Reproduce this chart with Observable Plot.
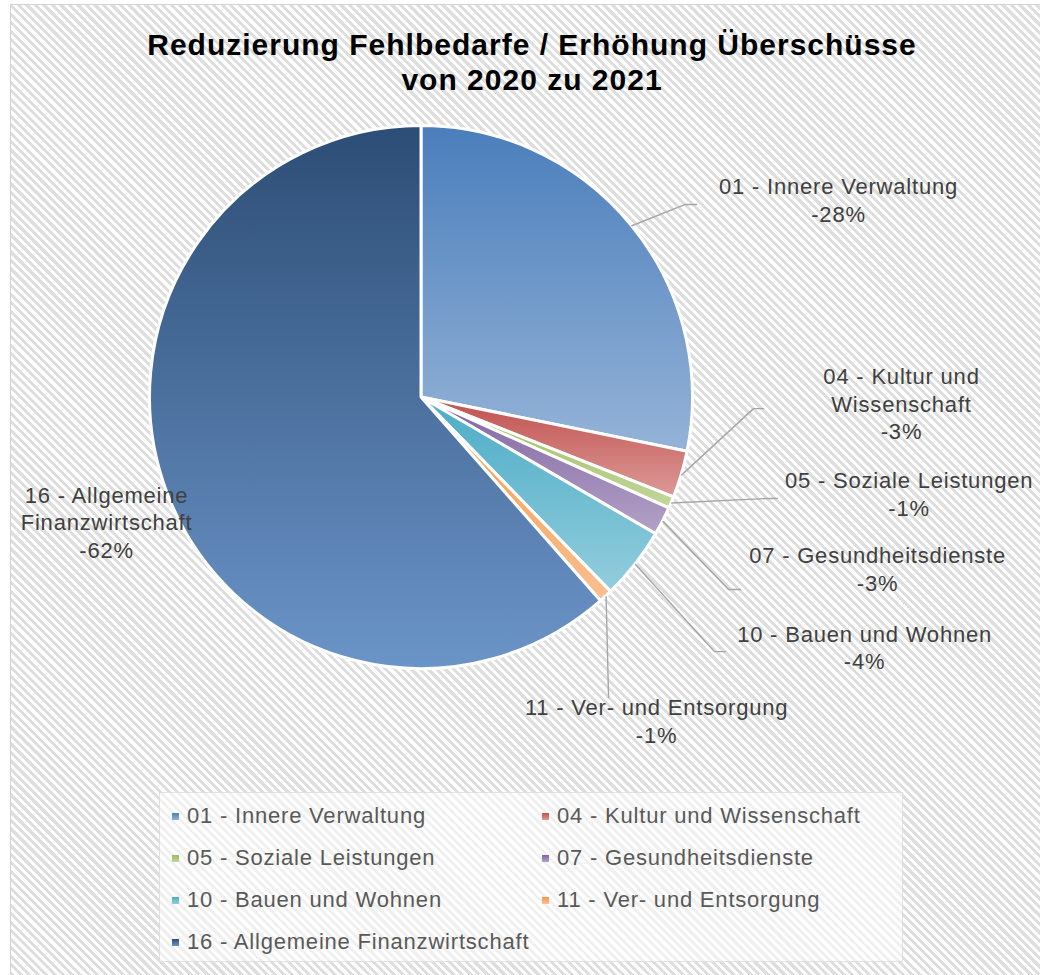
<!DOCTYPE html>
<html>
<head>
<meta charset="utf-8">
<script src="https://cdn.jsdelivr.net/npm/d3@7"></script>
<script src="https://cdn.jsdelivr.net/npm/@observablehq/plot@0.6"></script>
<style>
  html, body { margin: 0; padding: 0; background: #ffffff; }
  #wrap { position: relative; width: 1040px; height: 975px; overflow: hidden; font-family: "Liberation Sans", Arial, sans-serif; }
  #bg { position: absolute; left: 10px; top: 4px; width: 1060px; height: 1000px; border: 1px solid #d4d4d4;
        background: repeating-linear-gradient(45deg, #ffffff 0px, #ffffff 3px, #dedede 3px, #dedede 6px); }
  #content { position: absolute; left: 0; top: 0; width: 1040px; }
  #title { box-sizing: border-box; height: 112px; padding-top: 27px; padding-left: 24px; text-align: center;
           font-weight: bold; font-size: 30px; letter-spacing: 1px; line-height: 35px; color: #000; }
  #chart svg { display: block; background: transparent; }
  #legend { box-sizing: border-box; margin: 12px 0 0 159px; width: 744px; height: 170px; padding: 2px 0 0 12px;
            background: rgba(255,255,255,0.55); border: 1px solid rgba(215,215,215,0.7);
            display: grid; grid-template-columns: 370px 360px; grid-auto-rows: 42px;
            font-size: 22px; letter-spacing: 0.8px; line-height: 42px; color: #595959; }
  .item { white-space: nowrap; }
  .sw { display: inline-block; width: 7px; height: 7px; margin-right: 8px; vertical-align: 3px; }
</style>
</head>
<body>
<div id="wrap">
  <div id="bg"></div>
  <div id="content">
    <div id="title">Reduzierung Fehlbedarfe / Erhöhung Überschüsse<br>von 2020 zu 2021</div>
    <div id="chart"></div>
    <div id="legend"></div>
  </div>
</div>
<script>
// ---- Data ----
const categories = [
  "01 - Innere Verwaltung",
  "04 - Kultur und Wissenschaft",
  "05 - Soziale Leistungen",
  "07 - Gesundheitsdienste",
  "10 - Bauen und Wohnen",
  "11 - Ver- und Entsorgung",
  "16 - Allgemeine Finanzwirtschaft"
];
// slice sizes (share of the pie, %)
const shares = [28.2, 2.8, 0.7, 1.7, 4.3, 0.8, 61.5];
// data label texts
const percentLabels = ["-28%", "-3%", "-1%", "-3%", "-4%", "-1%", "-62%"];
const labelNames = [
  "01 - Innere Verwaltung",
  "04 - Kultur und\nWissenschaft",
  "05 - Soziale Leistungen",
  "07 - Gesundheitsdienste",
  "10 - Bauen und Wohnen",
  "11 - Ver- und Entsorgung",
  "16 - Allgemeine\nFinanzwirtschaft"
];
// gradient colours per slice (top -> bottom)
const colorTop    = ["#4a7ebb", "#c0504d", "#9bbb59", "#8064a2", "#4bacc6", "#f79646", "#2c4d75"];
const colorBottom = ["#95b3d7", "#dc9a98", "#c3d69b", "#b3a2c7", "#93cddd", "#fac090", "#6b94c8"];

// ---- Layout (in pie-radius units, centre of pie = 0,0) ----
const labelX = [1.536, 1.768, 1.796, 1.680, 1.632, 0.866, -1.160];
const labelTop = [0.820, 0.120, -0.263, -0.539, -0.827, -1.099, -0.315];
const elbowX = [0.972, 1.223, 1.274, 1.131, 1.079, 0.689, null];
const elbowY = [0.711, -0.041, -0.372, -0.707, -0.936, -1.105, null];
const endX   = [1.013, 1.260, 1.311, 1.175, 1.120, 0.689, null];
const endY   = [0.711, -0.041, -0.372, -0.707, -0.936, -1.105, null];

const slices = categories.map((c, i) => ({name: c, share: shares[i], top: colorTop[i], bottom: colorBottom[i], i}));
const arcs = d3.pie().sort(null).value(d => d.share)(slices);

// leader lines start at slice mid-angle on the rim
const leaders = [];
arcs.forEach((a, i) => {
  if (elbowX[i] == null) return;
  const m = (a.startAngle + a.endAngle) / 2;
  leaders.push({k: i, x: Math.sin(m), y: Math.cos(m)});
  leaders.push({k: i, x: elbowX[i], y: elbowY[i]});
  leaders.push({k: i, x: endX[i], y: endY[i]});
});

const labels = categories.map((c, i) => ({text: labelNames[i] + "\n" + percentLabels[i], x: labelX[i], y: labelTop[i]}));

const R = 271.5, W = 1040, H = 668, CX = 421, CY = 285;

function pieMark(index, scales) {
  const x = scales.x, y = scales.y;
  const r = x(1) - x(0);
  const svg = d3.create("svg:g");
  const defs = svg.append("defs");
  arcs.forEach((a, i) => {
    const g = defs.append("linearGradient").attr("id", "grad" + i)
      .attr("x1", 0).attr("y1", 0).attr("x2", 0).attr("y2", 1);
    g.append("stop").attr("offset", "0%").attr("stop-color", a.data.top);
    g.append("stop").attr("offset", "100%").attr("stop-color", a.data.bottom);
  });
  const arc = d3.arc().innerRadius(0).outerRadius(r);
  svg.append("g").attr("transform", `translate(${x(0)},${y(0)})`)
    .selectAll("path").data(arcs).join("path")
    .attr("d", arc)
    .attr("fill", (d, i) => `url(#grad${i})`)
    .attr("stroke", "#ffffff")
    .attr("stroke-width", 3)
    .attr("stroke-linejoin", "round");
  return svg.node();
}

const chart = Plot.plot({
  width: W,
  height: H,
  margin: 0,
  style: {background: "transparent", overflow: "visible", letterSpacing: "0.8px"},
  x: {domain: [-CX / R, (W - CX) / R], axis: null},
  y: {domain: [-(H - CY) / R, CY / R], axis: null},
  marks: [
    pieMark,
    Plot.line(leaders, {x: "x", y: "y", z: "k", stroke: "#a6a6a6", strokeWidth: 1.4, curve: "linear"}),
    Plot.text(labels, {
      x: "x", y: "y", text: "text",
      lineAnchor: "top", textAnchor: "middle",
      fontSize: 22, lineHeight: 1.25,
      fill: "#404040", fontFamily: "Liberation Sans, Arial, sans-serif"
    })
  ]
});
document.getElementById("chart").appendChild(chart);

// legend
const legend = d3.select("#legend");
slices.forEach(s => {
  const it = legend.append("div").attr("class", "item");
  it.append("span").attr("class", "sw").style("background", `linear-gradient(to bottom, ${s.top}, ${s.bottom})`);
  it.append("span").text(s.name);
});
</script>
</body>
</html>
